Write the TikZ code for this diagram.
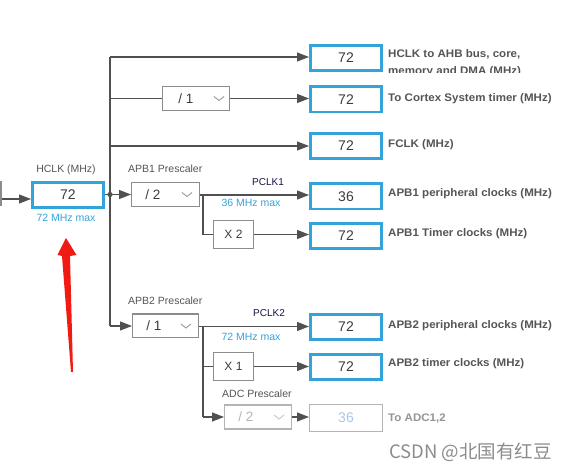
\documentclass[tikz,border=0pt]{standalone}
\usepackage{fontspec}
\setmainfont{Liberation Sans}
\newfontfamily\labfont[FakeStretch=1.05]{Liberation Sans}
\newfontfamily\cjkfont{Noto Sans CJK SC}
\usetikzlibrary{arrows.meta,calc}
\definecolor{boxblue}{RGB}{52,163,219}
\definecolor{linegray}{RGB}{80,80,80}
\definecolor{pregray}{RGB}{140,140,140}
\definecolor{chevgray}{RGB}{160,160,160}
\definecolor{labgray}{RGB}{85,85,85}
\definecolor{valtext}{RGB}{60,60,60}
\definecolor{navy}{RGB}{20,20,70}
\definecolor{disgray}{RGB}{180,180,180}
\definecolor{distext}{RGB}{150,150,150}
\definecolor{disblue}{RGB}{170,200,228}
\definecolor{redarrow}{RGB}{240,28,20}
\definecolor{wmgray}{RGB}{140,140,140}
\begin{document}
\begin{tikzpicture}[x=1pt,y=-1pt,
 valbox/.style={draw=boxblue,line width=2.6pt,minimum width=71.4pt,minimum height=25.4pt,inner sep=0pt,font=\fontsize{14}{14}\selectfont,text=valtext},
 prebox/.style={draw=pregray,line width=1.4pt,minimum width=66.6pt,minimum height=23.6pt,inner sep=0pt},
 mulbox/.style={draw=pregray,line width=1.4pt,minimum width=39.6pt,minimum height=27.6pt,inner sep=0pt,font=\fontsize{12}{12}\selectfont,text=valtext},
 lab/.style={anchor=west,inner sep=0pt,font=\labfont\bfseries\fontsize{11}{12}\selectfont,text=labgray},
 small/.style={inner sep=0pt,font=\fontsize{10.5}{12}\selectfont,text=labgray},
 maxlab/.style={inner sep=0pt,font=\fontsize{10.5}{11}\selectfont,text=boxblue},
 pclk/.style={inner sep=0pt,font=\fontsize{10}{12}\selectfont,text=navy},
 pretxt/.style={inner sep=0pt,font=\fontsize{13.5}{13.5}\selectfont,text=valtext},
 chev/.style={draw=chevgray,line width=1pt},
 conn/.style={draw=linegray,line width=1.2pt},
 arr/.style={conn,-{Triangle[length=12pt,width=9pt]}},
]
\useasboundingbox (0,0) rectangle (576,470);
\fill[white] (0,0) rectangle (576,470);

% input stub and HCLK
\begin{scope}
\clip (0,0) rectangle (576,470);
\node[prebox,minimum width=16pt] (in) at (-7,194) {};
\end{scope}
\node[valbox] (hclk) at (68,195) {72};
\node[small] (hclklab) at (66,170) {HCLK (MHz)};
\node[maxlab] (hclkmax) at (66,218) {72 MHz max};
\draw[arr] (in.east |- 0,199) -- (hclk.west |- 0,199);

% output value boxes
\node[valbox] (b1) at (346,58) {72};
\node[valbox] (b2) at (346,99.5) {72};
\node[valbox] (b3) at (346,146) {72};
\node[valbox] (b4) at (346,196.5) {36};
\node[valbox] (b5) at (346,236) {72};
\node[valbox] (b6) at (346,327) {72};
\node[valbox] (b7) at (346,367) {72};
\node[valbox,draw=disgray,line width=1.4pt,minimum width=72.6pt,minimum height=26.6pt,text=disblue] (b8) at (346,418) {36};

% labels
\begin{scope}
\clip (386,40) rectangle (576,72.5);
\node[lab] (l1a) at (388,54.5) {HCLK to AHB bus, core,};
\node[lab] (l1b) at (388,72) {memory and DMA (MHz)};
\end{scope}
\node[lab] (l2) at (388,99) {To Cortex System timer (MHz)};
\node[lab] (l3) at (388,145) {FCLK (MHz)};
\node[lab] (l4) at (388,194) {APB1 peripheral clocks (MHz)};
\node[lab] (l5) at (388,234) {APB1 Timer clocks (MHz)};
\node[lab] (l6) at (388,326) {APB2 peripheral clocks (MHz)};
\node[lab] (l7) at (388,364) {APB2 timer clocks (MHz)};
\node[lab,text=distext] (l8) at (388,419) {To ADC1,2};

% prescalers
\node[prebox] (cpre) at (196,98.5) {};
\node[pretxt] at ($(cpre.west)+(24,0)$) {/ 1};
\draw[chev] ($(cpre.east)+(-16,-2)$) -- ++(5,4) -- ++(5,-4);

\node[prebox,minimum width=67.6pt] (p1) at (165.5,194.5) {};
\node[pretxt] at ($(p1.west)+(22,0)$) {/ 2};
\draw[chev] ($(p1.east)+(-18,-2)$) -- ++(5,4) -- ++(5,-4);
\node[small,anchor=west] (p1lab) at (128,169) {APB1 Prescaler};

\node[prebox,minimum width=65.6pt] (p2) at (165.5,326) {};
\node[pretxt] at ($(p2.west)+(22,0)$) {/ 1};
\draw[chev] ($(p2.east)+(-18,-2)$) -- ++(5,4) -- ++(5,-4);
\node[small,anchor=west] (p2lab) at (128,301) {APB2 Prescaler};

\node[prebox,draw=disgray] (pa) at (258,417) {};
\node[pretxt,text=disgray] at ($(pa.west)+(22,0)$) {/ 2};
\draw[chev,draw=disgray!70] ($(pa.east)+(-18,-2)$) -- ++(5,4) -- ++(5,-4);
\node[small,anchor=west] (palab) at (222,394) {ADC Prescaler};

% multipliers
\node[mulbox] (x2) at (233.5,234.5) {X 2};
\node[mulbox] (x1) at (233.5,366.5) {X 1};

% PCLK labels
\node[pclk] (pc1) at (268,182) {PCLK1};
\node[maxlab] (m1) at (251,203) {36 MHz max};
\node[pclk] (pc2) at (269,313) {PCLK2};
\node[maxlab] (m2) at (251,337) {72 MHz max};

% bus
\coordinate (bustop) at (110,57);
\coordinate (busbot) at (110,326);
\draw[conn] (bustop) -- (busbot);
\draw[arr] (bustop) -- (bustop -| b1.west);
\draw[conn] (bustop |- cpre.west) -- (cpre.west);
\draw[arr] (cpre.east) -- (cpre.east -| b2.west);
\draw[arr] (bustop |- b3.west) -- (b3.west);
\draw[arr] (hclk.east |- p1.west) -- (p1.west);
\fill[linegray] (110,194.5) circle (2.6pt);
\draw[arr] (busbot) -- (busbot -| p2.west);

% APB1 branch
\coordinate (br1) at (203,195);
\draw[arr] (p1.east |- br1) -- (br1 -| b4.west);
\draw[conn] (br1) |- (x2.west);
\draw[arr] (x2.east) -- (x2.east -| b5.west);

% APB2 branch
\coordinate (br2) at (203,326.5);
\draw[arr] (p2.east |- br2) -- (br2 -| b6.west);
\draw[conn] (br2) -- (br2 |- pa.west);
\draw[conn] (br2 |- x1.west) -- (x1.west);
\draw[arr] (x1.east) -- (x1.east -| b7.west);
\draw[arr] (br2 |- pa.west) -- (pa.west);
\draw[arr] (pa.east) -- (pa.east -| b8.west);

% red arrow
\fill[redarrow] (66,238) -- (76.5,255) -- (70,256) -- (73,372) -- (71,372) -- (62,256) -- (57.5,255) -- cycle;

% watermark
\node[inner sep=0pt,anchor=west,font=\cjkfont\fontsize{18.5}{19}\selectfont,text=wmgray] (wm) at (389,452) {CSDN @北国有红豆};
\end{tikzpicture}
\end{document}
